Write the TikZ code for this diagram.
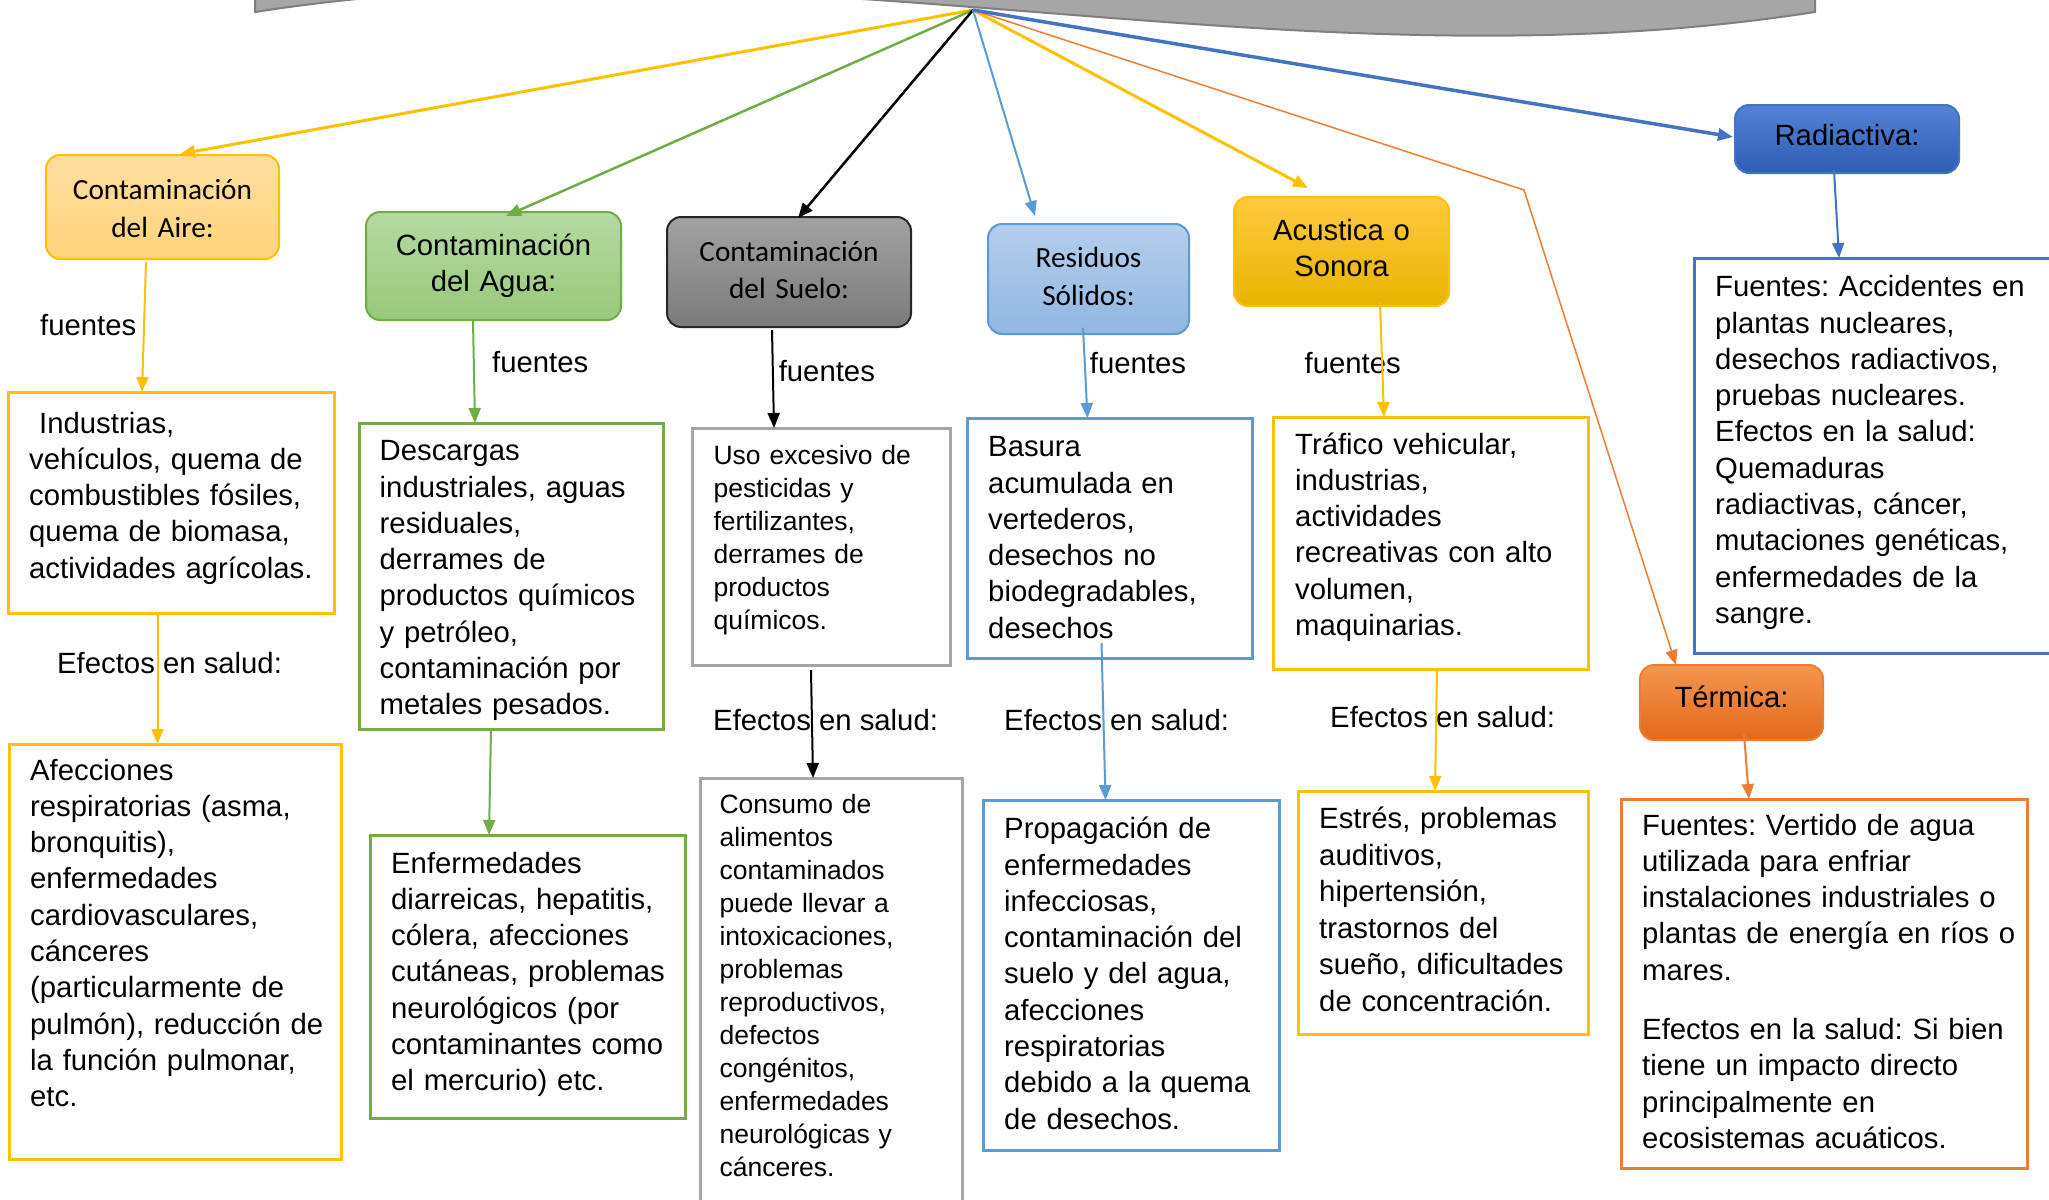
\documentclass[tikz,border=0pt]{standalone}
\usepackage{fontspec}
\setmainfont{Liberation Sans}
\newfontfamily\calib{Carlito}
\usetikzlibrary{arrows.meta,calc}
\frenchspacing

\definecolor{cYel}{HTML}{FFC000}
\definecolor{cGrn}{HTML}{70AD47}
\definecolor{cLbl}{HTML}{5B9BD5}
\definecolor{cBlu}{HTML}{4472C4}
\definecolor{cOrg}{HTML}{ED7D31}
\definecolor{cGry}{HTML}{A5A5A5}
\definecolor{waveFill}{HTML}{A6A6A6}
\definecolor{waveEdge}{HTML}{7F7F7F}
\definecolor{aireT}{HTML}{FFDE9F}
\definecolor{aireB}{HTML}{FFD37C}
\definecolor{aguaT}{HTML}{B6D9A2}
\definecolor{aguaB}{HTML}{98C97B}
\definecolor{sueloT}{HTML}{A2A2A2}
\definecolor{sueloB}{HTML}{7B7B7B}
\definecolor{resT}{HTML}{B4CEEC}
\definecolor{resB}{HTML}{92B6E2}
\definecolor{acuT}{HTML}{FFCA40}
\definecolor{acuB}{HTML}{E8B400}
\definecolor{radT}{HTML}{5383D6}
\definecolor{radB}{HTML}{2E5DB3}
\definecolor{terT}{HTML}{F39650}
\definecolor{terB}{HTML}{E4691A}

\newcommand\bodyfont{\fontsize{29.3}{36.3}\selectfont}
\newcommand\smallbody{\fontsize{26.5}{33}\selectfont}

\begin{document}
\begin{tikzpicture}[x=1pt,y=-1pt,
  box/.style={anchor=north west, inner sep=0pt, outer sep=0pt, line width=3pt, fill=white},
  hdr/.style={anchor=north west, inner sep=0pt, outer sep=0pt, line width=2pt, rounded corners=14pt},
  txt/.style={anchor=base west, inner sep=0pt, text width=430pt, align=left, font=\bodyfont},
  stxt/.style={txt, font=\smallbody},
  lbl/.style={anchor=base west, inner sep=0pt, font=\bodyfont},
  htxt/.style={anchor=base, inner sep=0pt, text width=#1, align=center},
  link/.style={line width=2pt, -{Triangle[length=15pt,width=12pt]}},
]
\useasboundingbox (0,0) rectangle (2049,1199);
\clip (0,0) rectangle (2049,1199);
\fill[white] (0,0) rectangle (2049,1199);

% wave-shaped title banner, cut by the top edge
\draw[fill=waveFill, draw=waveEdge, line width=2pt]
  (255,-60) -- (255,12) .. controls (780,-70) and (1290,94) .. (1815,12) -- (1815,-60) -- cycle;
\coordinate (hub) at (973,10);
\coordinate (bend) at (1524,190);

% category headers
\node[hdr, draw=cYel, top color=aireT, bottom color=aireB, minimum width=233pt, minimum height=104pt] (aireH) at (46,155) {};
\node[hdr, draw=cGrn, top color=aguaT, bottom color=aguaB, minimum width=255pt, minimum height=108pt] (aguaH) at (366,212) {};
\node[hdr, draw=black!85, top color=sueloT, bottom color=sueloB, minimum width=244pt, minimum height=110pt] (sueloH) at (667,217) {};
\node[hdr, draw=cLbl, top color=resT, bottom color=resB, minimum width=201pt, minimum height=110pt] (resH) at (988,224) {};
\node[hdr, draw=cYel, top color=acuT, bottom color=acuB, minimum width=215pt, minimum height=109pt] (acuH) at (1234,197) {};
\node[hdr, draw=cBlu, top color=radT, bottom color=radB, minimum width=224pt, minimum height=68pt] (radH) at (1735,105) {};
\node[hdr, draw=cOrg, top color=terT, bottom color=terB, minimum width=183pt, minimum height=75pt] (terH) at (1640,665) {};

\node[htxt=233pt, font=\calib\fontsize{29.3}{38.6}\selectfont] (aireHt) at (162.5,199) {Contaminación\\del Aire:};
\node[htxt=255pt, font=\fontsize{29.3}{36}\selectfont] (aguaHt) at (493.5,255) {Contaminación\\del Agua:};
\node[htxt=244pt, font=\calib\fontsize{29.3}{37}\selectfont] (sueloHt) at (789,261) {Contaminación\\del Suelo:};
\node[htxt=201pt, font=\calib\fontsize{29.3}{38}\selectfont] (resHt) at (1088.5,267) {Residuos\\Sólidos:};
\node[htxt=215pt, font=\fontsize{29.3}{36}\selectfont] (acuHt) at (1341.5,240) {Acustica o\\Sonora};
\node[htxt=224pt, font=\bodyfont] (radHt) at (1847,145) {Radiactiva:};
\node[htxt=183pt, font=\bodyfont] (terHt) at (1731.5,707) {Térmica:};

% content boxes
\node[box, draw=cYel, minimum width=326pt, minimum height=221pt] (aireF) at (8,392) {};
\node[box, draw=cYel, minimum width=332pt, minimum height=415pt] (aireE) at (9,744) {};
\node[box, draw=cGrn, minimum width=304pt, minimum height=306pt] (aguaF) at (359,423) {};
\node[box, draw=cGrn, minimum width=315pt, minimum height=283pt] (aguaE) at (370,835) {};
\node[box, draw=cGry, minimum width=258pt, minimum height=237pt] (sueloF) at (692,428) {};
\node[box, draw=cGry, minimum width=262pt, minimum height=450pt] (sueloE) at (700,778) {};
\node[box, draw=cLbl, minimum width=285pt, minimum height=240pt] (resF) at (967,418) {};
\node[box, draw=cLbl, minimum width=296pt, minimum height=350pt] (resE) at (983,800) {};
\node[box, draw=cYel, minimum width=315pt, minimum height=252pt] (acuF) at (1273,417) {};
\node[box, draw=cYel, minimum width=290pt, minimum height=243pt] (acuE) at (1298,791) {};
\node[box, draw=cBlu, minimum width=396pt, minimum height=395pt] (radF) at (1694,258) {};
\node[box, draw=cOrg, minimum width=406pt, minimum height=369pt] (terF) at (1621,799) {};

\node[txt] (aireFt) at (29,433) {\hspace*{10pt}Industrias,\\vehículos, quema de\\combustibles fósiles,\\quema de biomasa,\\actividades agrícolas.};
\node[txt] (aireEt) at (30,780) {Afecciones\\respiratorias (asma,\\bronquitis),\\enfermedades\\cardiovasculares,\\cánceres\\(particularmente de\\pulmón), reducción de\\la función pulmonar,\\etc.};
\node[txt] (aguaFt) at (379.5,460.7) {Descargas\\industriales, aguas\\residuales,\\derrames de\\productos químicos\\y petróleo,\\contaminación por\\metales pesados.};
\node[txt] (aguaEt) at (391,873) {Enfermedades\\diarreicas, hepatitis,\\cólera, afecciones\\cutáneas, problemas\\neurológicos (por\\contaminantes como\\el mercurio) etc.};
\node[stxt] (sueloFt) at (713.4,464) {Uso excesivo de\\pesticidas y\\fertilizantes,\\derrames de\\productos\\químicos.};
\node[stxt] (sueloEt) at (719.4,813) {Consumo de\\alimentos\\contaminados\\puede llevar a\\intoxicaciones,\\problemas\\reproductivos,\\defectos\\congénitos,\\enfermedades\\neurológicas y\\cánceres.};
\node[txt] (resFt) at (988,456.7) {Basura\\acumulada en\\vertederos,\\desechos no\\biodegradables,\\desechos};
\node[txt] (resEt) at (1004,838.7) {Propagación de\\enfermedades\\infecciosas,\\contaminación del\\suelo y del agua,\\afecciones\\respiratorias\\debido a la quema\\de desechos.};
\node[txt] (acuFt) at (1295,454) {Tráfico vehicular,\\industrias,\\actividades\\recreativas con alto\\volumen,\\maquinarias.};
\node[txt, font=\fontsize{29.3}{36.6}\selectfont] (acuEt) at (1319,828.4) {Estrés, problemas\\auditivos,\\hipertensión,\\trastornos del\\sueño, dificultades\\de concentración.};
\node[txt] (radFt) at (1715,296.7) {Fuentes: Accidentes en\\plantas nucleares,\\desechos radiactivos,\\pruebas nucleares.\\Efectos en la salud:\\Quemaduras\\radiactivas, cáncer,\\mutaciones genéticas,\\enfermedades de la\\sangre.};
\node[txt] (terFt) at (1642,835) {Fuentes: Vertido de agua\\utilizada para enfriar\\instalaciones industriales o\\plantas de energía en ríos o\\mares.\\[23pt]Efectos en la salud: Si bien\\tiene un impacto directo\\principalmente en\\ecosistemas acuáticos.};

% connector labels
\node[lbl] (l1) at (40,335) {fuentes};
\node[lbl] (l2) at (492,372.7) {fuentes};
\node[lbl] (l3) at (778.6,381.7) {fuentes};
\node[lbl] (l4) at (1089.7,373) {fuentes};
\node[lbl] (l5) at (1304.5,373.3) {fuentes};
\node[lbl] (e1) at (57,673) {Efectos en salud:};
\node[lbl] (e2) at (713,730) {Efectos en salud:};
\node[lbl] (e3) at (1004,730) {Efectos en salud:};
\node[lbl] (e4) at (1330,727) {Efectos en salud:};

% branches from the banner
\draw[link, cYel, line width=3pt] (hub) -- ($(aireH.north)+(17.5,-1)$);
\draw[link, cGrn, line width=2.5pt] (hub) -- ($(aguaH.north)+(12.5,4)$);
\draw[link, black, line width=2.5pt] (hub) -- ($(sueloH.north)+(9,1)$);
\draw[link, cLbl, line width=2pt] (hub) -- ($(resH.north)+(-53.5,-8)$);
\draw[link, cYel, line width=3pt] (hub) -- ($(acuH.north)+(-33.5,-9)$);
\draw[link, cOrg, line width=1.5pt] (hub) -- (bend) -- ($(terH.north)+(-55.5,0)$);
\draw[link, cBlu, line width=3.5pt] (hub) -- ($(radH.west)+(-2,-2)$);

% sources and health effects
\draw[link, cYel] ($(aireH.south)+(-16.5,3)$) -- ($(aireF.north)+(-29,0)$);
\draw[link, cYel] ($(aireF.south)+(-13.5,0)$) -- ($(aireE.north)+(-17.5,0)$);
\draw[link, cGrn] ($(aguaH.south)+(-20.5,1)$) -- ($(aguaF.north)+(-36,0)$);
\draw[link, cGrn] ($(aguaF.south)+(-20,0)$) -- ($(aguaE.north)+(-38.5,0)$);
\draw[link, black] ($(sueloH.south)+(-17,3)$) -- ($(sueloF.north)+(-47,0)$);
\draw[link, black] ($(sueloF.south)+(-10,5)$) -- ($(sueloE.north)+(-18,0)$);
\draw[link, cLbl] ($(resH.south)+(-5.5,-6)$) -- ($(resF.north)+(-22,0)$);
\draw[link, cLbl] ($(resF.south)+(-8,-15)$) -- ($(resE.north)+(-25.5,0)$);
\draw[link, cYel] ($(acuH.south)+(38.5,-3)$) -- ($(acuF.north)+(-46.5,0)$);
\draw[link, cYel] ($(acuF.south)+(6.5,0)$) -- ($(acuE.north)+(-8,0)$);
\draw[link, cBlu] ($(radH.south)+(-13,-3)$) -- ($(radF.north west)+(145,0)$);
\draw[link, cOrg] ($(terH.south)+(12.5,-6)$) -- ($(terF.north)+(-75,0)$);
\end{tikzpicture}
\end{document}
